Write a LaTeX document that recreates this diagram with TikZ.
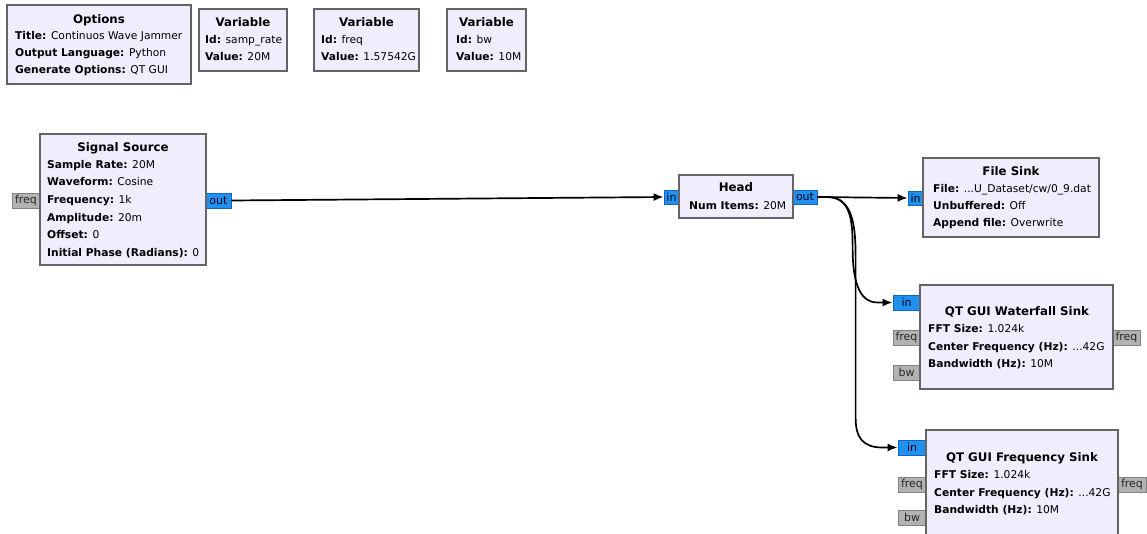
\documentclass[tikz,border=0pt]{standalone}
\usepackage{fontspec}
\setmainfont{DejaVu Sans}
\usetikzlibrary{arrows.meta,calc}
\definecolor{blockfill}{RGB}{240,237,253}
\definecolor{blockdraw}{RGB}{100,100,100}
\definecolor{portblue}{RGB}{33,145,240}
\definecolor{portblueb}{RGB}{20,100,190}
\definecolor{portgray}{RGB}{178,178,178}
\definecolor{portgrayb}{RGB}{130,130,130}
\tikzset{
 block/.style={draw=blockdraw, fill=blockfill, line width=1.7pt, inner sep=0pt},
 ttl/.style={font=\fontsize{11.8}{14}\selectfont\bfseries, inner sep=0pt, anchor=base},
 prm/.style={font=\fontsize{10.7}{#1}\selectfont, inner sep=0pt, anchor=north west, align=left},
 prm/.default=17.4,
 bport/.style={draw=portblueb, fill=portblue, line width=0.8pt, inner sep=0pt, font=\fontsize{11}{13}\selectfont, text=black!90!blue},
 gport/.style={draw=portgrayb, fill=portgray, line width=0.8pt, inner sep=0pt, font=\fontsize{11}{13}\selectfont, text=black!85},
 conn/.style={line width=1.7pt, -{Latex[length=10pt,width=8pt]}}
}
\begin{document}
\begin{tikzpicture}[x=1pt,y=-1pt]
\useasboundingbox (0,0) rectangle (1147,533);
\clip (0,0) rectangle (1147,533);
\fill[white] (0,0) rectangle (1147,533);

% ports
\node[gport, minimum width=28pt, minimum height=15pt] (ssfreq) at (26,200.5) {freq};
\node[bport, minimum width=25pt, minimum height=15pt] (ssout) at (218.5,200.5) {out};
\node[bport, minimum width=15pt, minimum height=14pt] (hdin) at (671.5,197) {in};
\node[bport, minimum width=24pt, minimum height=14pt] (hdout) at (805,197) {out};
\node[bport, minimum width=15pt, minimum height=14pt] (fsin) at (915.5,198) {in};
\node[bport, minimum width=27pt, minimum height=15pt] (wfin) at (906.5,302.5) {in};
\node[gport, minimum width=27pt, minimum height=15pt] (wffreq) at (906.5,337.5) {freq};
\node[gport, minimum width=27pt, minimum height=15pt] (wfbw) at (906.5,372.5) {bw};
\node[gport, minimum width=27pt, minimum height=15pt] (wffout) at (1126.5,337.5) {freq};
\node[bport, minimum width=28pt, minimum height=15pt] (qfin) at (912,447.5) {in};
\node[gport, minimum width=28pt, minimum height=15pt] (qffreq) at (912,484.5) {freq};
\node[gport, minimum width=28pt, minimum height=15pt] (qfbw) at (912,517.5) {bw};
\node[gport, minimum width=28pt, minimum height=15pt] (qffout) at (1132,484.5) {freq};

% blocks
\node[block, minimum width=184pt, minimum height=79pt] (opt) at (99,44.5) {};
\node[ttl] (optt) at (99,23) {Options};
\node[prm=17] (optp) at (15,27.8) {\strut\textbf{Title:} Continuos Wave Jammer\\\textbf{Output Language:} Python\\\textbf{Generate Options:} QT GUI};

\node[block, minimum width=88pt, minimum height=62pt] (v1) at (243,40) {};
\node[ttl] (v1t) at (243,26) {Variable};
\node[prm=17] (v1p) at (205,31.8) {\strut\textbf{Id:} samp\_rate\\\textbf{Value:} 20M};

\node[block, minimum width=105pt, minimum height=62pt] (v2) at (366.5,40) {};
\node[ttl] (v2t) at (366.5,26) {Variable};
\node[prm=17] (v2p) at (321,31.8) {\strut\textbf{Id:} freq\\\textbf{Value:} 1.57542G};

\node[block, minimum width=79pt, minimum height=62pt] (v3) at (486.5,40) {};
\node[ttl] (v3t) at (486.5,26) {Variable};
\node[prm=17] (v3p) at (456,31.8) {\strut\textbf{Id:} bw\\\textbf{Value:} 10M};

\node[block, minimum width=166pt, minimum height=131pt] (ss) at (123,199.5) {};
\node[ttl] (sst) at (123,151) {Signal Source};
\node[prm=17.6] (ssp) at (47,155.7) {\strut\textbf{Sample Rate:} 20M\\\textbf{Waveform:} Cosine\\\textbf{Frequency:} 1k\\\textbf{Amplitude:} 20m\\\textbf{Offset:} 0\\\textbf{Initial Phase (Radians):} 0};

\node[block, minimum width=114pt, minimum height=43pt] (hd) at (736,196.5) {};
\node[ttl] (hdt) at (736,191) {Head};
\node[prm=17.4] (hdp) at (689,196.8) {\strut\textbf{Num Items:} 20M};

\node[block, minimum width=176pt, minimum height=79pt] (fs) at (1011,197.5) {};
\node[ttl] (fst) at (1011,175) {File Sink};
\node[prm=17.4] (fsp) at (933,179.8) {\strut\textbf{File:} ...U\_Dataset/cw/0\_9.dat\\\textbf{Unbuffered:} Off\\\textbf{Append file:} Overwrite};

\node[block, minimum width=193pt, minimum height=104pt] (wf) at (1016.5,337) {};
\node[ttl] (wft) at (1017,315.5) {QT GUI Waterfall Sink};
\node[prm=17.4] (wfp) at (928,320.3) {\strut\textbf{FFT Size:} 1.024k\\\textbf{Center Frequency (Hz):} ...42G\\\textbf{Bandwidth (Hz):} 10M};

\node[block, minimum width=192pt, minimum height=115pt] (qf) at (1022,487.5) {};
\node[ttl] (qft) at (1022,461.5) {QT GUI Frequency Sink};
\node[prm=17.4] (qfp) at (934,466.3) {\strut\textbf{FFT Size:} 1.024k\\\textbf{Center Frequency (Hz):} ...42G\\\textbf{Bandwidth (Hz):} 10M};

% connectors
\draw[conn] (ssout.east) -- (hdin.west);
\draw[conn] (hdout.east) -- (fsin.west);
\draw[conn] (hdout.east) -- ++(10,0) .. controls +(24,0) and +(0,-25) .. ($(wfin.west)+(-40,-55)$) .. controls +(0,30) and +(-20,0) .. ($(wfin.west)+(-15,0)$) -- (wfin.west);
\draw[conn] (hdout.east) -- ++(10,0) .. controls +(26,0) and +(0,-30) .. ($(qfin.west)+(-42,-190)$) -- ($(qfin.west)+(-42,-30)$) .. controls +(0,20) and +(-20,0) .. ($(qfin.west)+(-15,0)$) -- (qfin.west);
\end{tikzpicture}
\end{document}
